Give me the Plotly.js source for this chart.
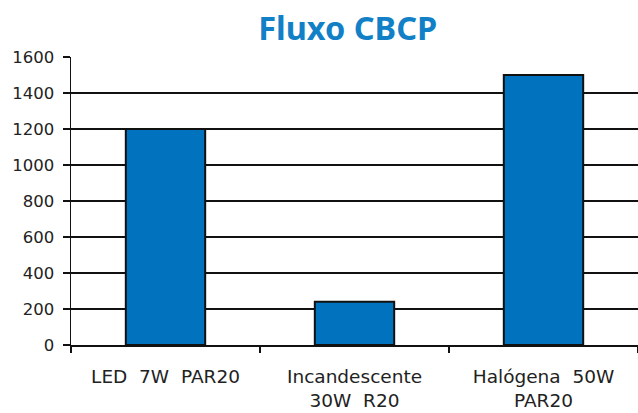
<!DOCTYPE html>
<html><head><meta charset="utf-8">
<script src="https://cdn.plot.ly/plotly-3.0.1.min.js"></script>
<style>html,body{margin:0;padding:0;background:#fff}</style>
</head><body>
<div id="chart" style="width:638px;height:413px"></div>
<script>
var categories = ["LED  7W  PAR20", "Incandescente<br>30W  R20", "Halógena  50W<br>PAR20"];
var fluxo = [1200, 240, 1500];
var yTicks = [0, 200, 400, 600, 800, 1000, 1200, 1400, 1600];

var trace = {
  type: "bar",
  x: categories,
  y: fluxo,
  marker: {color: "#0072BE", line: {color: "#111", width: 2}},
  hoverinfo: "none"
};
var layout = {
  width: 638, height: 413,
  margin: {l: 71, r: 0, t: 57, b: 68},
  paper_bgcolor: "#fff", plot_bgcolor: "#fff",
  bargap: 0.58,
  showlegend: false,
  font: {family: "DejaVu Sans, sans-serif", size: 16, color: "#222"},
  title: {text: "<b>Fluxo CBCP</b>", x: 0.545, xanchor: "center", y: 0.931, yanchor: "middle",
          font: {family: "Noto Sans, sans-serif", size: 32.5, color: "#1180C6"}},
  xaxis: {
    type: "category",
    showline: true, linecolor: "#111", linewidth: 1.5,
    ticks: "outside", tickson: "boundaries", ticklen: 6, tickcolor: "#111", tickwidth: 1.5,
    ticklabelstandoff: 14,
    showgrid: false, tickfont: {size: 18.5, color: "#222"}
  },
  yaxis: {
    range: [0, 1600], tickvals: yTicks,
    showline: true, linecolor: "#111", linewidth: 1.5,
    ticks: "outside", ticklen: 7, tickcolor: "#111", tickwidth: 1.5,
    ticklabelstandoff: 5,
    showgrid: true, gridcolor: "#111", gridwidth: 1.2,
    zeroline: false, tickfont: {size: 16.5, color: "#222"}
  }
};
Plotly.newPlot("chart", [trace], layout, {staticPlot: true, displayModeBar: false});
</script>
</body></html>
